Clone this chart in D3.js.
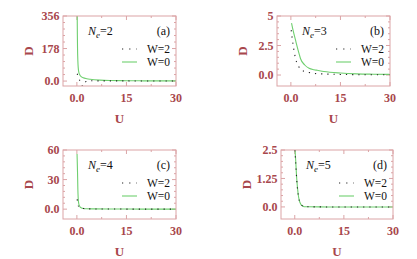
<!DOCTYPE html>
<html>
<head>
<meta charset="utf-8">
<script src="https://cdn.jsdelivr.net/npm/d3@7"></script>
<style>
body { margin: 0; background: #fff; }
svg { display: block; }
</style>
</head>
<body>
<svg id="chart"></svg>
<script>
// ---------------- data ----------------
const seriesNames = ["W=2", "W=0"];
const electronCounts = [2, 3, 4, 5];
const panelTags = ["(a)", "(b)", "(c)", "(d)"];
const xTicks = [0, 15, 30];
const xTickLabels = ["0.0", "15", "30"];

// y ticks per panel
const yTicksA = [0, 178, 356];
const yTickLabelsA = ["0.0", "178", "356"];
const yTicksB = [0, 2.5, 5];
const yTickLabelsB = ["0.0", "2.5", "5"];
const yTicksC = [0, 30, 60];
const yTickLabelsC = ["0.0", "30", "60"];
const yTicksD = [0, 1.25, 2.5];
const yTickLabelsD = ["0.0", "1.25", "2.5"];

// Ne=2
const uA_w0 = [0.1, 0.15, 0.2, 0.3, 0.4, 0.6, 0.9, 1.3, 1.9, 3, 4, 7, 10, 15, 20, 30];
const dA_w0 = [356, 250, 180, 110, 75, 48, 33, 24, 18, 13, 10, 5, 3, 2, 1.2, 0.8];
const uA_w2 = [0.1, 0.3, 0.6, 1.0, 1.4, 1.8, 2.3, 3, 4, 7, 10, 15, 20, 30];
const dA_w2 = [40, 30, 12, 0, -18, -28, -12, 0, 1.5, 1.2, 1, 0.8, 0.6, 0.5];

// Ne=3
const uB_w0 = [0.2, 0.5, 1, 1.5, 2, 2.5, 2.9, 4.2, 5.5, 7, 8, 10, 15, 20, 25, 30];
const dB_w0 = [4.4, 4.0, 3.4, 2.85, 2.3, 1.8, 1.4, 0.85, 0.57, 0.45, 0.4, 0.3, 0.17, 0.1, 0.07, 0.05];
const uB_w2 = [0.1, 0.4, 0.7, 1.0, 1.4, 1.8, 2.2, 2.9, 4.2, 5.5, 7, 10, 15, 20, 30];
const dB_w2 = [3.8, 3.1, 2.5, 2.0, 1.4, 1.05, 0.8, 0.5, 0.3, 0.22, 0.14, 0.09, 0.05, 0.03, 0.02];

// Ne=4
const uC_w0 = [0.05, 0.1, 0.2, 0.3, 0.4, 0.55, 0.7, 1, 1.4, 2, 3, 5, 10, 20, 30];
const dC_w0 = [56, 50, 37, 20, 11, 6, 4, 2, 1.2, 0.7, 0.4, 0.25, 0.12, 0.06, 0.04];
const uC_w2 = [0.1, 0.3, 0.6, 1, 2, 4, 10, 20, 30];
const dC_w2 = [10, 5, 2.3, 1.2, 0.6, 0.3, 0.1, 0.05, 0.03];

// Ne=5
const uD_w0 = [0.05, 0.3, 0.6, 0.9, 1.1, 1.4, 1.8, 2.3, 2.9, 4, 10, 30];
const dD_w0 = [2.6, 2.0, 1.25, 0.75, 0.5, 0.28, 0.13, 0.05, 0.01, 0.005, 0, 0];
const uD_w2 = [0.05, 0.3, 0.6, 0.9, 1.2, 1.6, 2.0, 2.6, 3.5, 10, 30];
const dD_w2 = [2.5, 1.9, 1.2, 0.7, 0.4, 0.2, 0.1, 0.03, 0.01, 0, 0];

// ---------------- layout ----------------
const width = 417;
const height = 259;
const tickColor = "#a8474c";
const frameColor = "#dba4a6";
const green = "#6fcf6f";

const panels = [
  { box: [63, 16, 176, 86], yDom: [-27, 356], yTicks: yTicksA, yLabels: yTickLabelsA,
    w2: [uA_w2, dA_w2], w0: [uA_w0, dA_w0] },
  { box: [277, 16, 390, 86], yDom: [-0.93, 5], yTicks: yTicksB, yLabels: yTickLabelsB,
    w2: [uB_w2, dB_w2], w0: [uB_w0, dB_w0] },
  { box: [63, 150, 176, 219], yDom: [-10, 60], yTicks: yTicksC, yLabels: yTickLabelsC,
    w2: [uC_w2, dC_w2], w0: [uC_w0, dC_w0] },
  { box: [281, 150, 393, 219], yDom: [-0.53, 2.5], yTicks: yTicksD, yLabels: yTickLabelsD,
    w2: [uD_w2, dD_w2], w0: [uD_w0, dD_w0] }
];
const legendDy = [37, 50];

const svg = d3.select('#chart')
  .attr('width', width)
  .attr('height', height)
  .style('font-family', '"Liberation Serif", "DejaVu Serif", serif');

svg.append('rect').attr('width', width).attr('height', height).attr('fill', '#fff');

panels.forEach(function(p, i) {
  const [x0, y0, x1, y1] = p.box;
  const x = d3.scaleLinear().domain([-4.2, 30]).range([x0, x1]);
  const y = d3.scaleLinear().domain(p.yDom).range([y1, y0]);
  const g = svg.append('g');

  const clipId = 'clip' + i;
  g.append('clipPath').attr('id', clipId)
    .append('rect').attr('x', x0).attr('y', y0).attr('width', x1 - x0).attr('height', y1 - y0);

  // minor ticks
  const xMinor = [7.5, 22.5];
  const yMinor = [];
  for (let k = 0; k < p.yTicks.length - 1; k++) {
    const step = (p.yTicks[k + 1] - p.yTicks[k]) / 5;
    for (let m = 1; m < 5; m++) yMinor.push(p.yTicks[k] + m * step);
  }

  const tk = g.append('g').attr('stroke', frameColor).attr('stroke-width', 1);
  xTicks.forEach(function(v) {
    tk.append('line').attr('x1', x(v)).attr('x2', x(v)).attr('y1', y1).attr('y2', y1 - 4);
    tk.append('line').attr('x1', x(v)).attr('x2', x(v)).attr('y1', y0).attr('y2', y0 + 4);
  });
  xMinor.forEach(function(v) {
    tk.append('line').attr('x1', x(v)).attr('x2', x(v)).attr('y1', y1).attr('y2', y1 - 2);
    tk.append('line').attr('x1', x(v)).attr('x2', x(v)).attr('y1', y0).attr('y2', y0 + 2);
  });
  p.yTicks.forEach(function(v) {
    tk.append('line').attr('x1', x0).attr('x2', x0 + 4).attr('y1', y(v)).attr('y2', y(v));
    tk.append('line').attr('x1', x1).attr('x2', x1 - 4).attr('y1', y(v)).attr('y2', y(v));
  });
  yMinor.forEach(function(v) {
    tk.append('line').attr('x1', x0).attr('x2', x0 + 2).attr('y1', y(v)).attr('y2', y(v));
    tk.append('line').attr('x1', x1).attr('x2', x1 - 2).attr('y1', y(v)).attr('y2', y(v));
  });

  // curves
  const line = d3.line().x(d => x(d[0])).y(d => y(d[1])).curve(d3.curveMonotoneX);
  const w0 = d3.zip(p.w0[0], p.w0[1]);
  const w2 = d3.zip(p.w2[0], p.w2[1]);
  const curves = g.append('g').attr('clip-path', 'url(#' + clipId + ')').attr('fill', 'none');
  curves.append('path').attr('d', line(w0)).attr('stroke', green).attr('stroke-width', 1.1);
  curves.append('path').attr('d', line(w2)).attr('stroke', '#222')
    .attr('stroke-width', 1.1).attr('stroke-dasharray', '1.2,5');

  // frame
  g.append('rect').attr('x', x0).attr('y', y0).attr('width', x1 - x0).attr('height', y1 - y0)
    .attr('fill', 'none').attr('stroke', frameColor).attr('stroke-width', 1);

  // tick labels
  xTicks.forEach(function(v, k) {
    g.append('text').attr('x', x(v)).attr('y', y1 + 16).attr('text-anchor', 'middle')
      .attr('font-size', 12).attr('font-weight', 'bold').attr('fill', tickColor).text(xTickLabels[k]);
  });
  p.yTicks.forEach(function(v, k) {
    g.append('text').attr('x', x0 - 3.5).attr('y', y(v)).attr('dy', '0.35em').attr('text-anchor', 'end')
      .attr('font-size', 12).attr('font-weight', 'bold').attr('fill', tickColor).text(p.yLabels[k]);
  });

  // axis titles
  g.append('text').attr('transform', 'translate(' + (x0 - 35) + ',' + ((y0 + y1) / 2) + ') rotate(-90)')
    .attr('text-anchor', 'middle').attr('dy', '0.35em').attr('font-size', 13).attr('font-weight', 'bold')
    .attr('fill', tickColor).text('D');
  g.append('text').attr('x', (x0 + x1) / 2).attr('y', y1 + 37).attr('text-anchor', 'middle')
    .attr('font-size', 13).attr('font-weight', 'bold').attr('fill', tickColor).text('U');

  // inner labels
  const ne = g.append('text').attr('x', x0 + 25).attr('y', y0 + 19).attr('font-size', 12).attr('fill', '#111');
  ne.append('tspan').attr('font-style', 'italic').text('N');
  ne.append('tspan').attr('font-style', 'italic').attr('font-size', 9).attr('dy', 3).text('e');
  ne.append('tspan').attr('dy', -3).text('=' + electronCounts[i]);
  g.append('text').attr('x', x1 - 6).attr('y', y0 + 19).attr('text-anchor', 'end')
    .attr('font-size', 12).attr('fill', '#111').text(panelTags[i]);

  // legend
  seriesNames.forEach(function(name, k) {
    const ly = y0 + legendDy[k];
    g.append('text').attr('x', x1 - 6).attr('y', ly).attr('text-anchor', 'end')
      .attr('font-size', 11.5).attr('fill', '#111').text(name);
    const ln = g.append('line').attr('x1', x1 - 54).attr('x2', x1 - 39)
      .attr('y1', ly - 4).attr('y2', ly - 4).attr('stroke-width', 1.1);
    if (k === 0) ln.attr('stroke', '#222').attr('stroke-dasharray', '1.2,6');
    else ln.attr('stroke', green);
  });
});
</script>
</body>
</html>
